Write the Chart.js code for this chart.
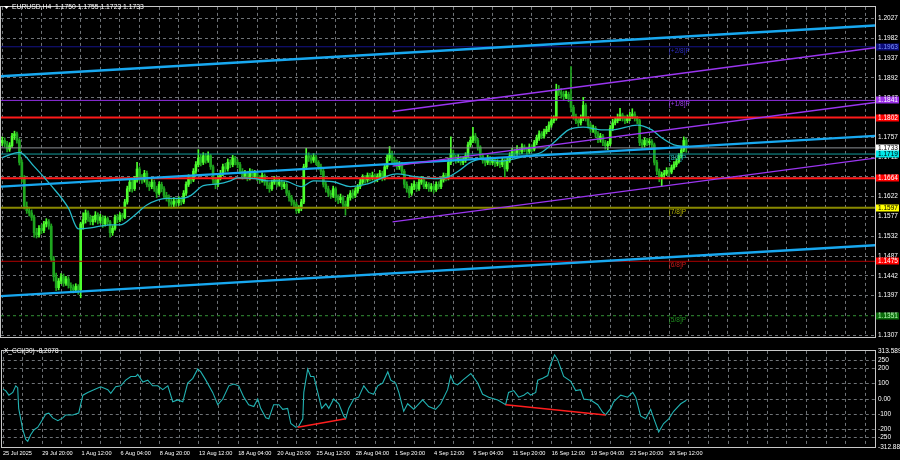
<!DOCTYPE html>
<html>
<head>
<meta charset="utf-8">
<script src="https://cdn.jsdelivr.net/npm/chart.js@4.4.1/dist/chart.umd.min.js"></script>
<style>
    html, body { margin: 0; padding: 0; background: #000; }
    #wrap { position: relative; width: 900px; height: 460px; overflow: hidden; background: #000; }
    #price-Chart { position: absolute; left: 0; top: 0; }
    #cci-Chart { position: absolute; left: 0; top: 344px; }
</style>
</head>
<body>
<div id="wrap">
    <canvas id="price-Chart" width="900" height="344"></canvas>
    <canvas id="cci-Chart" width="900" height="116"></canvas>
</div>
<script>
// ---- data ----
const dateLabels = ['25 Jul 2025', '29 Jul 20:00', '1 Aug 12:00', '6 Aug 04:00', '8 Aug 20:00', '13 Aug 12:00',
    '18 Aug 04:00', '20 Aug 20:00', '25 Aug 12:00', '28 Aug 04:00', '1 Sep 20:00', '4 Sep 12:00',
    '9 Sep 04:00', '11 Sep 20:00', '16 Sep 12:00', '19 Sep 04:00', '23 Sep 20:00', '26 Sep 12:00'];

const priceTicks = [1.2027, 1.1982, 1.1937, 1.1892, 1.1847, 1.1802, 1.1757, 1.1712, 1.1667,
    1.1622, 1.1577, 1.1532, 1.1487, 1.1442, 1.1397, 1.1352, 1.1307];

const opens = [
    1.1745,1.1750,1.1742,1.1730,1.1738,1.1760,1.1765,1.1750,1.1700,1.1665,
    1.1600,1.1590,1.1585,1.1575,1.1540,1.1535,1.1550,1.1545,1.1560,1.1565,
    1.1555,1.1480,1.1440,1.1415,1.1430,1.1440,1.1425,1.1435,1.1420,1.1415,
    1.1410,1.1418,1.1410,1.1560,1.1570,1.1585,1.1575,1.1565,1.1570,1.1580,
    1.1568,1.1575,1.1560,1.1572,1.1565,1.1540,1.1550,1.1575,1.1570,1.1580,
    1.1575,1.1610,1.1640,1.1655,1.1640,1.1660,1.1685,1.1665,1.1660,1.1675,
    1.1650,1.1645,1.1655,1.1640,1.1630,1.1650,1.1640,1.1625,1.1620,1.1610,
    1.1605,1.1612,1.1608,1.1615,1.1610,1.1630,1.1650,1.1665,1.1660,1.1680,
    1.1695,1.1710,1.1700,1.1715,1.1705,1.1715,1.1690,1.1660,1.1650,1.1665,
    1.1675,1.1690,1.1685,1.1700,1.1695,1.1710,1.1700,1.1695,1.1680,1.1670,
    1.1675,1.1665,1.1680,1.1670,1.1675,1.1665,1.1660,1.1670,1.1655,1.1648,
    1.1640,1.1655,1.1660,1.1650,1.1655,1.1645,1.1650,1.1630,1.1620,1.1610,
    1.1605,1.1590,1.1595,1.1610,1.1690,1.1715,1.1710,1.1705,1.1712,1.1700,
    1.1690,1.1680,1.1650,1.1640,1.1630,1.1625,1.1640,1.1620,1.1615,1.1620,
    1.1605,1.1600,1.1620,1.1630,1.1625,1.1635,1.1645,1.1655,1.1665,1.1660,
    1.1670,1.1665,1.1670,1.1662,1.1668,1.1675,1.1665,1.1690,1.1710,1.1720,
    1.1705,1.1700,1.1690,1.1695,1.1680,1.1650,1.1640,1.1630,1.1645,1.1650,
    1.1640,1.1655,1.1660,1.1645,1.1650,1.1640,1.1645,1.1638,1.1650,1.1645,
    1.1660,1.1670,1.1665,1.1700,1.1720,1.1710,1.1705,1.1710,1.1700,1.1705,
    1.1715,1.1740,1.1750,1.1760,1.1750,1.1735,1.1715,1.1705,1.1700,1.1710,
    1.1700,1.1705,1.1698,1.1700,1.1695,1.1705,1.1685,1.1705,1.1715,1.1725,
    1.1720,1.1730,1.1725,1.1735,1.1730,1.1725,1.1735,1.1730,1.1745,1.1755,
    1.1765,1.1760,1.1770,1.1775,1.1785,1.1795,1.1800,1.1865,1.1860,1.1855,
    1.1850,1.1855,1.1845,1.1825,1.1805,1.1795,1.1790,1.1800,1.1830,1.1800,
    1.1785,1.1775,1.1778,1.1765,1.1752,1.1760,1.1745,1.1738,1.1742,1.1778,
    1.1790,1.1795,1.1800,1.1808,1.1800,1.1795,1.1800,1.1805,1.1810,1.1800,
    1.1795,1.1745,1.1740,1.1750,1.1745,1.1748,1.1740,1.1700,1.1680,1.1668,
    1.1672,1.1675,1.1682,1.1678,1.1688,1.1695,1.1702,1.1715,1.1728,1.1750];

const highs = [
    1.1758,1.1756,1.1748,1.1745,1.1766,1.1771,1.1769,1.1754,1.1706,1.1670,
    1.1610,1.1598,1.1592,1.1580,1.1550,1.1556,1.1558,1.1566,1.1572,1.1570,
    1.1560,1.1486,1.1448,1.1436,1.1447,1.1446,1.1441,1.1440,1.1426,1.1422,
    1.1424,1.1422,1.1564,1.1585,1.1592,1.1590,1.1580,1.1578,1.1588,1.1585,
    1.1582,1.1579,1.1578,1.1576,1.1568,1.1556,1.1580,1.1582,1.1586,1.1584,
    1.1616,1.1646,1.1662,1.1660,1.1668,1.1700,1.1690,1.1672,1.1682,1.1680,
    1.1656,1.1662,1.1660,1.1646,1.1656,1.1655,1.1645,1.1632,1.1626,1.1616,
    1.1620,1.1618,1.1622,1.1620,1.1636,1.1656,1.1672,1.1670,1.1686,1.1702,
    1.1729,1.1718,1.1722,1.1720,1.1724,1.1718,1.1694,1.1666,1.1670,1.1682,
    1.1696,1.1698,1.1708,1.1706,1.1716,1.1714,1.1706,1.1700,1.1686,1.1682,
    1.1680,1.1686,1.1684,1.1682,1.1678,1.1670,1.1676,1.1674,1.1660,1.1654,
    1.1660,1.1668,1.1664,1.1662,1.1660,1.1656,1.1654,1.1636,1.1625,1.1614,
    1.1610,1.1602,1.1616,1.1696,1.1732,1.1722,1.1716,1.1720,1.1716,1.1704,
    1.1696,1.1684,1.1656,1.1646,1.1636,1.1646,1.1644,1.1626,1.1628,1.1624,
    1.1612,1.1626,1.1636,1.1638,1.1642,1.1650,1.1662,1.1672,1.1670,1.1676,
    1.1675,1.1678,1.1674,1.1674,1.1682,1.1680,1.1696,1.1718,1.1736,1.1726,
    1.1712,1.1706,1.1702,1.1700,1.1684,1.1656,1.1646,1.1652,1.1658,1.1655,
    1.1662,1.1668,1.1664,1.1656,1.1654,1.1652,1.1650,1.1656,1.1656,1.1666,
    1.1676,1.1675,1.1710,1.1758,1.1728,1.1716,1.1718,1.1714,1.1712,1.1722,
    1.1746,1.1758,1.1780,1.1766,1.1755,1.1738,1.1720,1.1710,1.1716,1.1714,
    1.1712,1.1710,1.1706,1.1704,1.1710,1.1708,1.1710,1.1722,1.1732,1.1730,
    1.1738,1.1734,1.1742,1.1740,1.1735,1.1742,1.1740,1.1750,1.1762,1.1772,
    1.1770,1.1776,1.1782,1.1792,1.1802,1.1806,1.1878,1.1875,1.1868,1.1862,
    1.1862,1.1860,1.1918,1.1830,1.1810,1.1800,1.1808,1.1848,1.1834,1.1805,
    1.1790,1.1785,1.1782,1.1770,1.1766,1.1764,1.1750,1.1748,1.1784,1.1798,
    1.1802,1.1810,1.1823,1.1812,1.1806,1.1808,1.1814,1.1822,1.1815,1.1805,
    1.1798,1.1752,1.1756,1.1755,1.1754,1.1752,1.1744,1.1705,1.1685,1.1678,
    1.1682,1.1688,1.1688,1.1694,1.1702,1.1708,1.1720,1.1735,1.1758,1.1755];

const lows = [
    1.1738,1.1735,1.1724,1.1725,1.1734,1.1752,1.1744,1.1694,1.1655,1.1594,
    1.1584,1.1578,1.1568,1.1530,1.1528,1.1530,1.1538,1.1540,1.1553,1.1548,
    1.1474,1.1430,1.1408,1.1410,1.1424,1.1418,1.1420,1.1414,1.1408,1.1403,
    1.1404,1.1400,1.1392,1.1548,1.1562,1.1566,1.1558,1.1558,1.1564,1.1560,
    1.1562,1.1552,1.1555,1.1558,1.1530,1.1534,1.1546,1.1563,1.1565,1.1568,
    1.1572,1.1605,1.1634,1.1632,1.1636,1.1655,1.1658,1.1652,1.1655,1.1644,
    1.1636,1.1640,1.1634,1.1620,1.1626,1.1633,1.1618,1.1612,1.1600,1.1596,
    1.1598,1.1600,1.1602,1.1603,1.1606,1.1625,1.1645,1.1652,1.1656,1.1675,
    1.1690,1.1692,1.1695,1.1698,1.1700,1.1684,1.1652,1.1640,1.1645,1.1660,
    1.1670,1.1678,1.1680,1.1688,1.1690,1.1694,1.1688,1.1674,1.1662,1.1664,
    1.1658,1.1660,1.1664,1.1665,1.1658,1.1652,1.1655,1.1648,1.1640,1.1632,
    1.1636,1.1650,1.1644,1.1646,1.1638,1.1640,1.1624,1.1612,1.1602,1.1596,
    1.1584,1.1585,1.1590,1.1606,1.1686,1.1702,1.1698,1.1700,1.1694,1.1684,
    1.1672,1.1644,1.1632,1.1622,1.1618,1.1620,1.1612,1.1606,1.1608,1.1596,
    1.1580,1.1595,1.1614,1.1618,1.1620,1.1630,1.1640,1.1650,1.1653,1.1655,
    1.1658,1.1660,1.1655,1.1656,1.1662,1.1658,1.1660,1.1685,1.1704,1.1698,
    1.1692,1.1684,1.1684,1.1674,1.1642,1.1632,1.1620,1.1625,1.1638,1.1634,
    1.1636,1.1650,1.1640,1.1640,1.1634,1.1634,1.1630,1.1634,1.1640,1.1640,
    1.1655,1.1658,1.1660,1.1695,1.1702,1.1698,1.1700,1.1694,1.1695,1.1700,
    1.1710,1.1735,1.1745,1.1744,1.1728,1.1708,1.1698,1.1692,1.1695,1.1694,
    1.1695,1.1690,1.1692,1.1688,1.1690,1.1667,1.1680,1.1700,1.1710,1.1714,
    1.1716,1.1718,1.1720,1.1724,1.1718,1.1720,1.1724,1.1726,1.1740,1.1750,
    1.1754,1.1755,1.1765,1.1770,1.1780,1.1790,1.1796,1.1852,1.1846,1.1842,
    1.1845,1.1838,1.1815,1.1798,1.1788,1.1782,1.1785,1.1795,1.1794,1.1778,
    1.1768,1.1768,1.1758,1.1745,1.1746,1.1738,1.1730,1.1729,1.1738,1.1772,
    1.1785,1.1790,1.1795,1.1794,1.1788,1.1790,1.1795,1.1800,1.1794,1.1788,
    1.1738,1.1732,1.1735,1.1738,1.1740,1.1732,1.1694,1.1672,1.1656,1.1646,
    1.1665,1.1670,1.1670,1.1674,1.1684,1.1690,1.1698,1.1710,1.1724,1.1723];

const closes = [
    1.1750,1.1742,1.1730,1.1738,1.1760,1.1765,1.1750,1.1700,1.1665,1.1600,
    1.1590,1.1585,1.1575,1.1540,1.1535,1.1550,1.1545,1.1560,1.1565,1.1555,
    1.1480,1.1440,1.1415,1.1430,1.1440,1.1425,1.1435,1.1420,1.1415,1.1410,
    1.1418,1.1410,1.1560,1.1570,1.1585,1.1575,1.1565,1.1570,1.1580,1.1568,
    1.1575,1.1560,1.1572,1.1565,1.1540,1.1550,1.1575,1.1570,1.1580,1.1575,
    1.1610,1.1640,1.1655,1.1640,1.1660,1.1685,1.1665,1.1660,1.1675,1.1650,
    1.1645,1.1655,1.1640,1.1630,1.1650,1.1640,1.1625,1.1620,1.1610,1.1605,
    1.1612,1.1608,1.1615,1.1610,1.1630,1.1650,1.1665,1.1660,1.1680,1.1695,
    1.1710,1.1700,1.1715,1.1705,1.1715,1.1690,1.1660,1.1650,1.1665,1.1675,
    1.1690,1.1685,1.1700,1.1695,1.1710,1.1700,1.1695,1.1680,1.1670,1.1675,
    1.1665,1.1680,1.1670,1.1675,1.1665,1.1660,1.1670,1.1655,1.1648,1.1640,
    1.1655,1.1660,1.1650,1.1655,1.1645,1.1650,1.1630,1.1620,1.1610,1.1605,
    1.1590,1.1595,1.1610,1.1690,1.1715,1.1710,1.1705,1.1712,1.1700,1.1690,
    1.1680,1.1650,1.1640,1.1630,1.1625,1.1640,1.1620,1.1615,1.1620,1.1605,
    1.1600,1.1620,1.1630,1.1625,1.1635,1.1645,1.1655,1.1665,1.1660,1.1670,
    1.1665,1.1670,1.1662,1.1668,1.1675,1.1665,1.1690,1.1710,1.1720,1.1705,
    1.1700,1.1690,1.1695,1.1680,1.1650,1.1640,1.1630,1.1645,1.1650,1.1640,
    1.1655,1.1660,1.1645,1.1650,1.1640,1.1645,1.1638,1.1650,1.1645,1.1660,
    1.1670,1.1665,1.1700,1.1720,1.1710,1.1705,1.1710,1.1700,1.1705,1.1715,
    1.1740,1.1750,1.1760,1.1750,1.1735,1.1715,1.1705,1.1700,1.1710,1.1700,
    1.1705,1.1698,1.1700,1.1695,1.1705,1.1685,1.1705,1.1715,1.1725,1.1720,
    1.1730,1.1725,1.1735,1.1730,1.1725,1.1735,1.1730,1.1745,1.1755,1.1765,
    1.1760,1.1770,1.1775,1.1785,1.1795,1.1800,1.1865,1.1860,1.1855,1.1850,
    1.1855,1.1845,1.1825,1.1805,1.1795,1.1790,1.1800,1.1830,1.1800,1.1785,
    1.1775,1.1778,1.1765,1.1752,1.1760,1.1745,1.1738,1.1742,1.1778,1.1790,
    1.1795,1.1800,1.1808,1.1800,1.1795,1.1800,1.1805,1.1810,1.1800,1.1795,
    1.1745,1.1740,1.1750,1.1745,1.1748,1.1740,1.1700,1.1680,1.1668,1.1672,
    1.1675,1.1682,1.1678,1.1688,1.1695,1.1702,1.1715,1.1728,1.1750,1.1733];

// moving average, sampled along the picture (bar index / price)
const maBars = [0, 7, 13, 20, 27, 31, 36, 44, 48, 54, 59, 67, 73, 77, 82, 88, 93, 96, 103, 108, 115, 122,
    127, 135, 142, 149, 156, 161, 167, 176, 182, 186, 191, 195, 203, 211, 220, 225, 231, 237, 245,
    249, 259, 265, 269, 274, 279];
const maValues = [1.1711, 1.1723, 1.1691, 1.1647, 1.1596, 1.1549, 1.1551, 1.1558, 1.1558, 1.1580, 1.1603,
    1.1618, 1.1618, 1.1625, 1.1647, 1.1651, 1.1658, 1.1665, 1.1663, 1.1658, 1.1658, 1.1645, 1.1658,
    1.1656, 1.1645, 1.1651, 1.1667, 1.1674, 1.1669, 1.1663, 1.1667, 1.1680, 1.1700, 1.1707, 1.1703,
    1.1711, 1.1723, 1.1745, 1.1774, 1.1780, 1.1774, 1.1774, 1.1785, 1.1774, 1.1756, 1.1740, 1.1736];

// horizontal levels (top to bottom)
const levelPrices = [1.1963, 1.1841, 1.1802, 1.1733, 1.1719, 1.1664, 1.1597, 1.1475, 1.1351];
const murrayNames = ['[+2/8]P', '[+1/8]P', '[8/8]P', '[7/8]P', '[6/8]P', '[5/8]P'];
const murrayPrices = [1.1963, 1.1841, 1.1719, 1.1597, 1.1475, 1.1351];

// channel lines: [price at first bar, price at last bar]
const blueBars = [-0.5, 356];
const blueChannel = [[1.18959, 1.20114], [1.16448, 1.17603], [1.13959, 1.15114]];
const purpleBars = [159.2, 356];
const purpleChannel = [[1.18159, 1.19608], [1.16914, 1.18363], [1.15648, 1.17097]];

// CCI(30) panel
const cciBars = [0,1.1,2.4,4,5.2,6,6.4,8.1,9.3,10.1,
    11.3,12.6,14.2,15.4,17.5,18.7,20.3,22.4,24.4,25.6,
    28.5,30.9,32.6,34.6,37.1,39.9,42.8,44,46,48.1,
    50.1,52.2,54.2,55,57.1,59.1,61.1,63.2,65.2,67.3,
    69.3,71.3,73.4,75.4,77.5,79.5,80.7,82.8,85.6,87.7,
    89.7,92.2,94.2,96.2,98.3,100.3,102.4,104,105.2,107.3,
    108.5,110.5,112.6,114.2,116.2,117.5,119.5,120.7,122.4,122.8,
    124.4,125.6,126.9,128.5,130.1,131.8,133,135,137.1,139.1,
    139.9,141.1,143.2,145.2,147.3,149.3,151.3,153,155,157.1,
    158.3,160.3,161.6,163.6,165.2,167.7,171.3,173.8,176.6,178.7,
    181.5,182.8,184,185.6,187.7,191,193.8,195.8,198.3,202,
    205.2,206.4,208.5,210.5,212.6,214.2,215.4,217.5,218.3,220.3,
    222.4,223.6,225.2,226.4,228.9,231.7,233.8,235.8,237.1,239.9,
    242.8,244.8,246,248.1,249.3,252.2,255,257.1,258.3,260.3,
    262.4,264.4,265.6,267.7,269.7,271.8,273.8,276.7,279];
const cciValues = [63,55,25,43,86,74,-61,-202,-264,-276,
    -233,-202,-184,-153,-98,-92,-123,-141,-123,-104,
    -104,-92,25,43,61,80,61,37,80,86,
    123,147,147,160,110,123,86,86,61,86,
    -18,-6,-18,104,135,196,178,123,43,-37,
    0,86,98,86,12,-37,-49,0,-61,-123,
    -129,-37,-37,-67,-61,-160,-184,-178,-129,43,
    196,147,147,43,-61,-31,-61,0,-31,-110,
    -129,-61,0,12,86,43,31,86,104,178,
    123,104,43,-80,-31,-67,-6,-49,-67,-31,
    61,153,104,92,123,166,104,31,12,-6,
    -37,43,55,12,25,43,25,43,123,135,
    153,227,288,258,147,117,55,61,0,-6,
    -37,-86,-104,-61,-18,25,12,43,12,-110,
    -129,-67,-123,-215,-160,-129,-80,-31,-8.2078];
const cciTicks = [313.589, 250, 200, 100, 0, -100, -200, -250, -312.889];
const cciTickLabels = ['313.5890', '250', '200', '100', '0.00', '-100', '-200', '-250', '-312.889'];
const divergenceBars = [[120.3, 139.9], [205.2, 246]];
const divergenceValues = [[-184, -129], [-37, -104]];

// ---- styles ----
const FONT = '"Liberation Sans", Arial, sans-serif';
const gridColor = '#6f7377';
const bullColor = '#4dff2e';
const bearColor = '#1fa51f';
const levelStyles = [
    { color: '#14148a', width: 1, tag: '#0c0c7a', text: '#7f96ff' },
    { color: '#8f2fe0', width: 1, tag: '#9b30e8', text: '#ffffff' },
    { color: '#ff1a1a', width: 2, tag: '#ff0000', text: '#ffffff' },
    { color: '#8c9096', width: 1, tag: '#ffffff', text: '#000000' },
    { color: '#129c9c', width: 1, tag: '#00e8e8', text: '#000000' },
    { color: '#ff1a1a', width: 2, tag: '#ff0000', text: '#ffffff' },
    { color: '#8a8a00', width: 2, tag: '#ffff00', text: '#000000' },
    { color: '#b00000', width: 1, tag: '#ff0000', text: '#ffffff' },
    { color: '#0d700d', width: 1, dash: [3, 3], tag: '#0b6b0b', text: '#b8ffb8' }
];
const murrayColors = ['#2a2abf', '#9b3dea', '#1fb5b5', '#b5b500', '#cc1a1a', '#1f8f1f'];

const gridBars = [];
for (let b = 0; b <= 352; b += 8) gridBars.push(b);

Chart.defaults.font.family = FONT;
Chart.defaults.animation = false;

function xAxis(showLabels) {
    return {
        type: 'linear',
        min: -0.5,
        max: 356,
        offset: false,
        afterBuildTicks: function(scale) { scale.ticks = gridBars.map(v => ({ value: v })); },
        afterFit: function(scale) { scale.height = showLabels ? 13 : 0; },
        grid: { color: gridColor, drawTicks: false, offset: false },
        border: { display: false, dash: [3, 3] },
        ticks: {
            display: showLabels,
            autoSkip: false,
            maxRotation: 0,
            minRotation: 0,
            align: 'start',
            padding: 3,
            color: '#ffffff',
            font: { size: 5.6 },
            callback: function(value) {
                return value % 16 === 0 ? (dateLabels[value / 16] || '') : '';
            }
        }
    };
}

// black background + panel frame
const framePlugin = {
    id: 'frame',
    beforeDraw(chart) {
        const c = chart.ctx;
        c.save();
        c.fillStyle = '#000';
        c.fillRect(0, 0, chart.width, chart.height);
        c.restore();
    },
    afterDatasetsDraw(chart) {
        const c = chart.ctx, a = chart.chartArea;
        c.save();
        c.strokeStyle = '#c8c8c8';
        c.lineWidth = 1;
        c.strokeRect(Math.round(a.left) - 0.5, Math.round(a.top) - 0.5,
            Math.round(a.right - a.left) + 1, Math.round(a.bottom - a.top) + 1);
        c.restore();
    }
};

// level names inside the plot and coloured price tags on the axis
const tagPlugin = {
    id: 'tags',
    afterDraw(chart) {
        const c = chart.ctx, x = chart.scales.x, y = chart.scales.y, a = chart.chartArea;
        c.save();
        c.font = '6.5px ' + FONT;
        c.textBaseline = 'top';
        murrayNames.forEach((name, i) => {
            c.fillStyle = murrayColors[i];
            c.fillText(name, x.getPixelForValue(272), y.getPixelForValue(murrayPrices[i]) + 1);
        });
        c.textBaseline = 'middle';
        levelPrices.forEach((p, i) => {
            const st = levelStyles[i];
            const py = Math.round(y.getPixelForValue(p));
            c.fillStyle = st.tag;
            c.fillRect(a.right + 1, py - 3.5, 23, 7);
            c.fillStyle = st.text;
            c.fillText(p.toFixed(4), a.right + 3, py + 0.5);
        });
        // symbol header
        c.fillStyle = '#ffffff';
        c.beginPath();
        c.moveTo(4, 6); c.lineTo(9, 6); c.lineTo(6.5, 9); c.closePath(); c.fill();
        c.font = '6.8px ' + FONT;
        c.fillText('EURUSD,H4  1.1750 1.1755 1.1723 1.1733', 12, 7.5);
        c.restore();
    }
};

function createPriceChart() {
    const ctx = document.getElementById('price-Chart').getContext('2d');

    const datasets = [];
    // candles: wicks and bodies as floating bars
    datasets.push({
        type: 'bar',
        data: highs.map((h, i) => ({ x: i, y: [lows[i], h] })),
        backgroundColor: c => closes[c.dataIndex] >= opens[c.dataIndex] ? bullColor : bearColor,
        barThickness: 1,
        grouped: false,
        borderWidth: 0,
        order: 20
    });
    datasets.push({
        type: 'bar',
        data: opens.map((o, i) => ({ x: i, y: [o, closes[i]] })),
        backgroundColor: c => closes[c.dataIndex] >= opens[c.dataIndex] ? bullColor : bearColor,
        barThickness: 2,
        grouped: false,
        borderWidth: 0,
        minBarLength: 1,
        order: 19
    });
    // horizontal levels
    levelPrices.forEach((p, i) => {
        const st = levelStyles[i];
        datasets.push({
            type: 'line',
            data: [{ x: blueBars[0], y: p }, { x: blueBars[1], y: p }],
            borderColor: st.color,
            borderWidth: st.width,
            borderDash: st.dash || [],
            pointRadius: 0,
            order: 15
        });
    });
    // moving average
    datasets.push({
        type: 'line',
        data: maBars.map((b, i) => ({ x: b, y: maValues[i] })),
        borderColor: '#25b9c9',
        borderWidth: 1.3,
        cubicInterpolationMode: 'monotone',
        pointRadius: 0,
        order: 5
    });
    // channels
    blueChannel.forEach(line => {
        datasets.push({
            type: 'line',
            data: [{ x: blueBars[0], y: line[0] }, { x: blueBars[1], y: line[1] }],
            borderColor: '#18a8f0',
            borderWidth: 2.4,
            pointRadius: 0,
            order: 3
        });
    });
    purpleChannel.forEach(line => {
        datasets.push({
            type: 'line',
            data: [{ x: purpleBars[0], y: line[0] }, { x: purpleBars[1], y: line[1] }],
            borderColor: '#9a35f0',
            borderWidth: 1.4,
            pointRadius: 0,
            order: 2
        });
    });

    new Chart(ctx, {
        type: 'bar',
        data: { datasets: datasets },
        options: {
            responsive: false,
            layout: { padding: { left: 1, top: 4, right: 0, bottom: 2 } },
            plugins: { legend: { display: false }, tooltip: { enabled: false } },
            scales: {
                x: xAxis(false),
                y: {
                    position: 'right',
                    min: 1.13026,
                    max: 1.20537,
                    afterBuildTicks: function(scale) { scale.ticks = priceTicks.map(v => ({ value: v })); },
                    afterFit: function(scale) { scale.width = 25; },
                    grid: { color: gridColor, drawTicks: false },
                    border: { display: false, dash: [3, 3] },
                    ticks: {
                        color: '#ffffff',
                        padding: 3,
                        font: { size: 6.5 },
                        callback: v => v.toFixed(4)
                    }
                }
            }
        },
        plugins: [framePlugin, tagPlugin]
    });
}

function createCciChart() {
    const ctx = document.getElementById('cci-Chart').getContext('2d');

    const datasets = [{
        data: cciBars.map((b, i) => ({ x: b, y: cciValues[i] })),
        borderColor: '#22b3b3',
        borderWidth: 1.1,
        pointRadius: 0,
        order: 2
    }];
    divergenceBars.forEach((bars, i) => {
        datasets.push({
            data: [{ x: bars[0], y: divergenceValues[i][0] }, { x: bars[1], y: divergenceValues[i][1] }],
            borderColor: '#ff1e1e',
            borderWidth: 1.5,
            pointRadius: 0,
            order: 1
        });
    });

    const titlePlugin = {
        id: 'cciTitle',
        afterDraw(chart) {
            const c = chart.ctx;
            c.save();
            c.fillStyle = '#ffffff';
            c.font = '6.5px ' + FONT;
            c.textBaseline = 'middle';
            c.fillText('X_CCI(30) -8.2078', 4, 7);
            c.restore();
        }
    };

    new Chart(ctx, {
        type: 'line',
        data: { datasets: datasets },
        options: {
            responsive: false,
            layout: { padding: { left: 1, top: 2, right: 0, bottom: 0 } },
            plugins: { legend: { display: false }, tooltip: { enabled: false } },
            scales: {
                x: xAxis(true),
                y: {
                    position: 'right',
                    min: -312.889,
                    max: 313.589,
                    afterBuildTicks: function(scale) { scale.ticks = cciTicks.map(v => ({ value: v })); },
                    afterFit: function(scale) { scale.width = 25; },
                    grid: { color: gridColor, drawTicks: false },
                    border: { display: false, dash: [3, 3] },
                    ticks: {
                        color: '#ffffff',
                        padding: 3,
                        font: { size: 6.5 },
                        callback: function(v, i) { return cciTickLabels[i]; }
                    }
                }
            }
        },
        plugins: [framePlugin, titlePlugin]
    });
}

createPriceChart();
createCciChart();
</script>
</body>
</html>
